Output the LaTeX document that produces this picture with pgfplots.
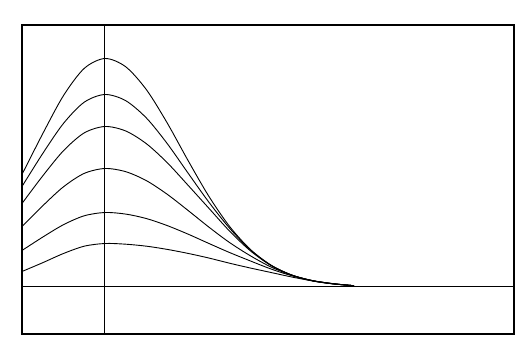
\documentclass[border=0pt]{standalone}
\usepackage{pgfplots}
\pgfplotsset{compat=1.18}
\begin{document}
\begin{tikzpicture}
\begin{axis}[
  scale only axis,
  width=246pt, height=154.5pt,
  xmin=-1, xmax=4.928,
  ymin=-47.5, ymax=261.5,
  xtick=\empty, ytick=\empty,
  axis line style={line width=0.6pt},
  clip=false,
]
\addplot[black, line width=0.45pt, smooth] coordinates {
(-1,112) (-0.75,152.8) (-0.5,190.9) (-0.25,218.1) (0,228) (0.25,219.7) (0.5,196.7) (0.75,163.5) (1,126.1) (1.25,90.4) (1.5,60.2) (1.75,37.2) (2,21.4) (2.25,11.4) (2.5,5.6) (2.75,2.6) (3,0.8)};
\addplot[black, line width=0.45pt, smooth] coordinates {
(-1,100) (-0.75,133.0) (-0.5,163.1) (-0.25,184.3) (0,192) (0.25,185.8) (0.5,168.4) (0.75,142.9) (1,113.5) (1.25,84.5) (1.5,58.4) (1.75,36.7) (2,21.2) (2.25,11.4) (2.5,5.7) (2.75,2.6) (3,0.8)};
\addplot[black, line width=0.45pt, smooth] coordinates {
(-1,83) (-0.75,110.6) (-0.5,135.8) (-0.25,153.6) (0,160) (0.25,155.5) (0.5,142.7) (0.75,123.8) (1,101.3) (1.25,78.4) (1.5,55.5) (1.75,35.8) (2,21.0) (2.25,11.5) (2.5,5.8) (2.75,2.7) (3,0.8)};
\addplot[black, line width=0.45pt, smooth] coordinates {
(-1,60) (-0.75,80.7) (-0.5,99.7) (-0.25,113.1) (0,118) (0.25,114.8) (0.5,105.8) (0.75,92.2) (1,76.1) (1.25,59.5) (1.5,44.0) (1.75,30.8) (2,19.5) (2.25,11.3) (2.5,5.9) (2.75,2.8) (3,0.8)};
\addplot[black, line width=0.45pt, smooth] coordinates {
(-1,36) (-0.75,49.4) (-0.5,61.8) (-0.25,70.7) (0,74) (0.25,72.4) (0.5,67.9) (0.75,60.9) (1,52.4) (1.25,43.1) (1.5,34.0) (1.75,25.6) (2,17.5) (2.25,10.8) (2.5,5.9) (2.75,2.8) (3,0.8)};
\addplot[black, line width=0.45pt, smooth] coordinates {
(-1,15) (-0.75,23.8) (-0.5,33.0) (-0.25,40.3) (0,43) (0.25,42.3) (0.5,40.3) (0.75,37.1) (1,33.1) (1.25,28.5) (1.5,23.3) (1.75,18.5) (2,14.0) (2.25,9.5) (2.5,5.6) (2.75,2.7) (3,0.8)};
\addplot[black, line width=0.5pt] coordinates {(0,-47.5) (0,261.5)};
\addplot[black, line width=0.5pt] coordinates {(-1,0) (4.928,0)};
\path (rel axis cs:-0.0447,-0.0712) rectangle (rel axis cs:1.0305,1.0809);
\end{axis}
\end{tikzpicture}
\end{document}
